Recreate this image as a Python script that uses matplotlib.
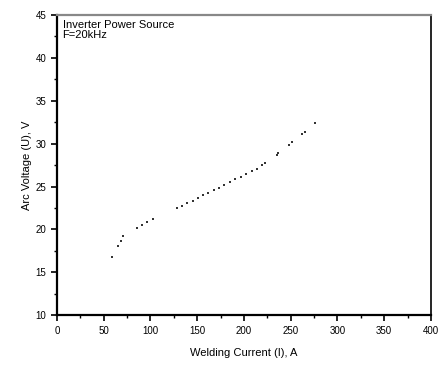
import numpy as np
import matplotlib.pyplot as plt
from matplotlib.ticker import MultipleLocator

# welding current (A) and arc voltage (V)
current = [59.1, 65.6, 68.1, 70.3, 85.2, 90.6, 96.6, 102.4, 128.0, 133.4,
           139.4, 145.1, 151.1, 156.5, 161.8, 167.9, 173.3, 178.9, 185.0,
           190.4, 196.8, 202.5, 208.3, 213.6, 219.6, 222.5, 235.0, 236.8,
           248.5, 251.1, 261.8, 265.2, 275.9]
voltage = [16.8, 18.05, 18.67, 19.2, 20.2, 20.5, 20.85, 21.17, 22.45, 22.72,
           23.03, 23.34, 23.62, 23.97, 24.27, 24.55, 24.82, 25.13, 25.52,
           25.83, 26.14, 26.45, 26.77, 27.07, 27.47, 27.77, 28.67, 28.9,
           29.85, 30.16, 31.1, 31.4, 32.35]

plt.rcParams['font.family'] = ['Liberation Sans', 'DejaVu Sans']

fig = plt.figure(figsize=(4.48, 3.66), dpi=100)
ax = fig.add_axes([0.127, 0.139, 0.835, 0.820])

ax.plot(current, voltage, linestyle='none', marker='s', markersize=1.9,
        color='#333333', markeredgewidth=0)

ax.set_xlim(0, 400)
ax.set_ylim(10, 45)
ax.xaxis.set_major_locator(MultipleLocator(50))
ax.xaxis.set_minor_locator(MultipleLocator(25))
ax.yaxis.set_major_locator(MultipleLocator(5))
ax.yaxis.set_minor_locator(MultipleLocator(2.5))
ax.tick_params(which='major', direction='out', length=4, width=1.2, labelsize=7)
ax.tick_params(which='minor', direction='out', length=2, width=1)

for side in ['left', 'bottom']:
    ax.spines[side].set_linewidth(1.6)
ax.spines['right'].set_linewidth(1.2)
ax.spines['top'].set_linewidth(1.6)
ax.spines['top'].set_color('#888888')

ax.set_xlabel('Welding Current (I), A', fontsize=8, labelpad=9)
ax.set_ylabel('Arc Voltage (U), V', fontsize=8, labelpad=3)

ax.text(0.015, 0.985, 'Inverter Power Source\nF=20kHz', transform=ax.transAxes,
        fontsize=8, va='top', ha='left', linespacing=1.1)

fig.savefig('out.png', dpi=100)
